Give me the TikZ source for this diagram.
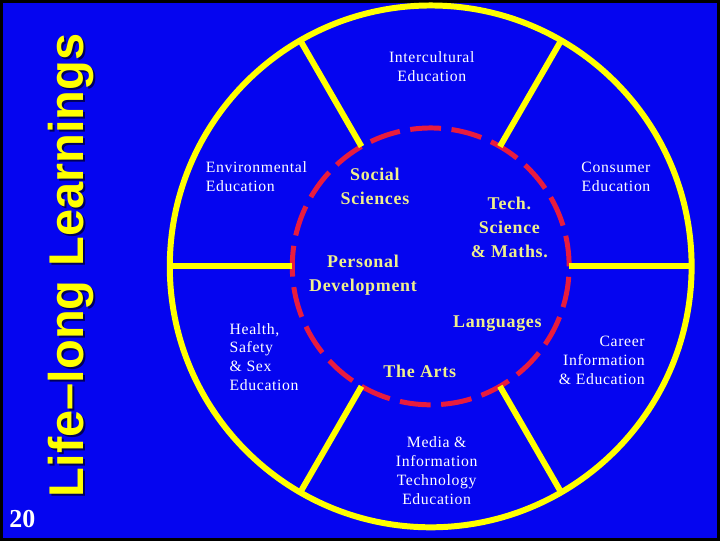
\documentclass[tikz,border=0pt]{standalone}
\usepackage{fontspec}
\setmainfont{Liberation Serif}
\newfontfamily\arialfont{Liberation Sans}
\definecolor{bgblue}{RGB}{5,5,240}
\definecolor{ringyellow}{RGB}{255,255,0}
\definecolor{dashred}{RGB}{232,28,62}
\definecolor{paleyellow}{RGB}{240,240,140}
\definecolor{shadowblue}{RGB}{0,0,90}
\begin{document}
\begin{tikzpicture}[x=1pt,y=-1pt,
 outerlabel/.style={text=white, font=\fontsize{15.8}{19}\selectfont\addfontfeature{LetterSpace=4}, inner sep=0pt, align=center},
 innerlabel/.style={text=paleyellow, font=\bfseries\fontsize{18}{24}\selectfont\addfontfeature{LetterSpace=4}, inner sep=0pt, align=center},
 spoke/.style={draw=ringyellow, line width=6pt},
 titletext/.style={rotate=90, anchor=base, inner sep=0pt, font=\arialfont\bfseries\fontsize{49}{49}\selectfont},
]
\fill[bgblue] (0,0) rectangle (720,540);
\draw[black, line width=3pt] (0,0) rectangle (720,540);
\useasboundingbox (0,0) rectangle (720,540);
\node[circle, draw=ringyellow, line width=6pt, minimum size=524pt, inner sep=0pt, outer sep=0pt] (outer) at (431,266) {};
\node[circle, draw=dashred, line width=5pt, dash pattern=on 31pt off 10.6pt, minimum size=278pt, inner sep=0pt, outer sep=0pt] (inner) at (431,266) {};
\foreach \a in {0,60,...,300} \draw[spoke] (inner.\a) -- (outer.\a);
\node[titletext, text=shadowblue] (titleshadow) at (84,267) {Life–long Learnings};
\node[titletext, text=ringyellow] (title) at (82,265) {Life–long Learnings};
\node[text=white, font=\bfseries\fontsize{26}{26}\selectfont, inner sep=0pt, anchor=base] (num) at (21,528) {20};
\node[outerlabel] (intercultural) at (432,65) {Intercultural\\Education};
\node[outerlabel, align=left, anchor=west] (environmental) at (205,176) {Environmental\\Education};
\node[outerlabel] (consumer) at (617,176) {Consumer\\Education};
\node[outerlabel, align=right, anchor=east] (career) at (646,360) {Career\\Information\\\& Education};
\node[outerlabel, align=left, anchor=west] (health) at (229,357) {Health,\\Safety\\\& Sex\\Education};
\node[outerlabel] (media) at (437,471) {Media \&\\Information\\Technology\\Education};
\node[innerlabel] (social) at (375,186) {Social\\Sciences};
\node[innerlabel] (tech) at (510,227) {Tech.\\Science\\\& Maths.};
\node[innerlabel] (personal) at (363,275) {Personal\\Development};
\node[innerlabel] (languages) at (498,323) {Languages};
\node[innerlabel] (arts) at (420,371) {The Arts};
\end{tikzpicture}
\end{document}
